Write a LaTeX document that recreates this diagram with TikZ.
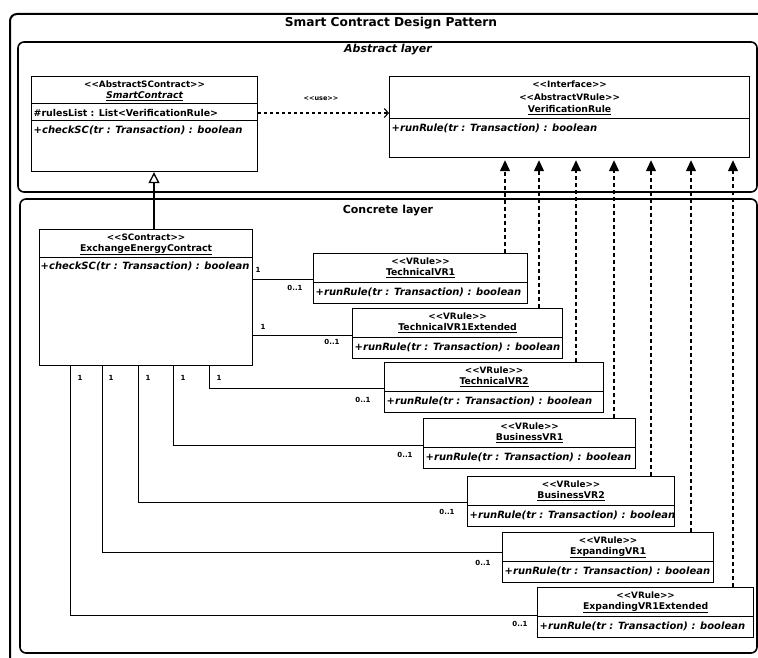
\documentclass[tikz,border=0pt]{standalone}
\usepackage{fontspec}
\setmainfont{DejaVu Sans}
\usetikzlibrary{arrows.meta,calc}

% guillemet-free stereotype brackets
\newcommand\stereo[1]{<\kern0pt<#1>\kern0pt>}

\tikzset{
  frame/.style={draw, line width=1.6pt, rounded corners=6pt},
  outerframe/.style={draw, line width=2pt, rounded corners=7pt},
  umlbox/.style={draw, line width=1.2pt, inner sep=0pt, anchor=north west, fill=white},
  divider/.style={line width=1pt},
  sterep/.style={font=\bfseries\fontsize{8.8}{10}\selectfont, inner sep=0pt},
  cname/.style={font=\bfseries\fontsize{9.3}{11}\selectfont, inner sep=0pt},
  oper/.style={font=\bfseries\itshape\fontsize{10}{11}\selectfont, inner sep=0pt, anchor=west},
  attr/.style={font=\bfseries\fontsize{9.4}{11}\selectfont, inner sep=0pt, anchor=west},
  mult/.style={font=\bfseries\fontsize{7}{8}\selectfont, inner sep=0pt},
  heading/.style={font=\bfseries\fontsize{12.2}{14}\selectfont, inner sep=0pt},
  layer/.style={font=\bfseries\fontsize{11}{13}\selectfont, inner sep=0pt},
  assoc/.style={line width=1pt},
  realize/.style={line width=1.3pt, dash pattern=on 4pt off 3pt,
    -{Triangle[width=10pt,length=11pt]}, shorten >=2pt},
  generalize/.style={line width=1.3pt, -{Triangle[open,width=11pt,length=11pt,line width=1.3pt]}},
  depend/.style={line width=1.1pt, dash pattern=on 3pt off 3pt,
    -{Straight Barb[length=4pt,width=9pt,line width=1.1pt]}},
}

% concrete verification rule class: name, left, top, right, class name
\newcommand\ruleclass[5]{%
  \node[umlbox, minimum width={#4-#2}, minimum height=50pt] (#1) at (#2,#3) {};
  \draw[divider] ([yshift=-29pt]#1.north west) -- ([yshift=-29pt]#1.north east);
  \node[sterep] (#1-st) at ([yshift=-8pt]#1.north) {\stereo{VRule}};
  \node[cname] (#1-nm) at ([yshift=-20.5pt]#1.north) {\underline{#5}};
  \node[oper] (#1-op) at ([shift={(2.5pt,-39.5pt)}]#1.north west) {+runRule(tr : Transaction) : boolean};
}

\begin{document}
\begin{tikzpicture}[x=1pt,y=-1pt]
\useasboundingbox (0,0) rectangle (758,658);
\clip (0,0) rectangle (758,658);
\fill[white] (0,0) rectangle (758,658);

% package frames
\draw[outerframe] (10,14) rectangle (772,690);
\node[heading] (title) at (391,23) {Smart Contract Design Pattern};
\draw[frame] (18,42) rectangle (757,192);
\node[layer, font=\bfseries\itshape\fontsize{11}{13}\selectfont] (abs) at (388,50) {Abstract layer};
\draw[frame] (20,199) rectangle (757,653);
\node[layer] (con) at (388,211) {Concrete layer};

% abstract smart contract
\node[umlbox, minimum width=226pt, minimum height=95pt] (sc) at (31,76) {};
\draw[divider] ([yshift=-28pt]sc.north west) -- ([yshift=-28pt]sc.north east);
\draw[divider] ([yshift=-45pt]sc.north west) -- ([yshift=-45pt]sc.north east);
\node[sterep] (sc-st) at ([yshift=-8pt]sc.north) {\stereo{AbstractSContract}};
\node[cname, font=\bfseries\itshape\fontsize{9.3}{11}\selectfont] (sc-nm) at ([yshift=-20pt]sc.north) {\underline{SmartContract}};
\node[attr] (sc-at) at ([shift={(2.5pt,-37pt)}]sc.north west) {\#rulesList : List<VerificationRule>};
\node[oper] (sc-op) at ([shift={(2.5pt,-54pt)}]sc.north west) {+checkSC(tr : Transaction) : boolean};

% verification rule interface
\node[umlbox, minimum width=360pt, minimum height=81pt] (vr) at (389,76) {};
\draw[divider] ([yshift=-43pt]vr.north west) -- ([yshift=-43pt]vr.north east);
\node[sterep] (vr-st1) at ([yshift=-8pt]vr.north) {\stereo{Interface}};
\node[sterep] (vr-st2) at ([yshift=-21pt]vr.north) {\stereo{AbstractVRule}};
\node[cname] (vr-nm) at ([yshift=-34pt]vr.north) {\underline{VerificationRule}};
\node[oper] (vr-op) at ([shift={(2.5pt,-52pt)}]vr.north west) {+runRule(tr : Transaction) : boolean};

% use dependency
\coordinate (d) at ([yshift=-37pt]sc.north east);
\draw[depend] (d) -- (d -| vr.west);
\node[font=\bfseries\fontsize{6.5}{7}\selectfont, inner sep=0pt] (use) at (321,99) {\stereo{use}};

% concrete contract
\node[umlbox, minimum width=213pt, minimum height=136pt] (exch) at (39,229) {};
\draw[divider] ([yshift=-28pt]exch.north west) -- ([yshift=-28pt]exch.north east);
\node[sterep] (exch-st) at ([yshift=-8pt]exch.north) {\stereo{SContract}};
\node[cname] (exch-nm) at ([yshift=-20.5pt]exch.north) {\underline{ExchangeEnergyContract}};
\node[oper] (exch-op) at ([shift={(1.5pt,-37pt)}]exch.north west) {+checkSC(tr : Transaction) : boolean};

% concrete verification rules
\ruleclass{tvr1}{313}{253}{527}{TechnicalVR1}
\ruleclass{tvr1e}{352}{308}{562}{TechnicalVR1Extended}
\ruleclass{tvr2}{384}{362}{603}{TechnicalVR2}
\ruleclass{bvr1}{423}{418}{635}{BusinessVR1}
\ruleclass{bvr2}{467}{476}{674}{BusinessVR2}
\ruleclass{evr1}{502}{532}{713}{ExpandingVR1}
\ruleclass{evr1e}{537}{587}{753}{ExpandingVR1Extended}

% generalization
\coordinate (g) at ([xshift=115pt]exch.north west);
\draw[generalize] (g) -- (g |- sc.south);

% realizations
\coordinate (r1) at ([xshift=192pt]tvr1.north west);
\coordinate (r2) at ([xshift=187pt]tvr1e.north west);
\coordinate (r3) at ([xshift=192pt]tvr2.north west);
\coordinate (r4) at ([xshift=191pt]bvr1.north west);
\coordinate (r5) at ([xshift=184pt]bvr2.north west);
\coordinate (r6) at ([xshift=189pt]evr1.north west);
\coordinate (r7) at ([xshift=196pt]evr1e.north west);
\foreach \r in {r1,r2,r3,r4,r5,r6,r7}
  \draw[realize] (\r) -- (\r |- vr.south);

% associations
\coordinate (a1) at ([yshift=-26pt]tvr1.north west);
\coordinate (a2) at ([yshift=-27pt]tvr1e.north west);
\coordinate (a3) at ([yshift=-26pt]tvr2.north west);
\coordinate (a4) at ([yshift=-27pt]bvr1.north west);
\coordinate (a5) at ([yshift=-26pt]bvr2.north west);
\coordinate (a6) at ([yshift=-20pt]evr1.north west);
\coordinate (a7) at ([yshift=-28pt]evr1e.north west);
\draw[assoc] (a1 -| exch.east) -- (a1);
\draw[assoc] (a2 -| exch.east) -- (a2);
\draw[assoc] ([xshift=170pt]exch.south west) |- (a3);
\draw[assoc] ([xshift=134pt]exch.south west) |- (a4);
\draw[assoc] ([xshift=99pt]exch.south west) |- (a5);
\draw[assoc] ([xshift=63pt]exch.south west) |- (a6);
\draw[assoc] ([xshift=31pt]exch.south west) |- (a7);

% multiplicities
\node[mult] (m1a) at (258,270) {1};
\node[mult] (m1b) at (295,288) {0..1};
\node[mult] (m2a) at (263,327) {1};
\node[mult] (m2b) at (332,342) {0..1};
\node[mult] (m3a) at (219,378) {1};
\node[mult] (m3b) at (363,400) {0..1};
\node[mult] (m4a) at (183,378) {1};
\node[mult] (m4b) at (405,455) {0..1};
\node[mult] (m5a) at (148,378) {1};
\node[mult] (m5b) at (447,512) {0..1};
\node[mult] (m6a) at (111,378) {1};
\node[mult] (m6b) at (483,563) {0..1};
\node[mult] (m7a) at (80,378) {1};
\node[mult] (m7b) at (520,624) {0..1};
\end{tikzpicture}
\end{document}
